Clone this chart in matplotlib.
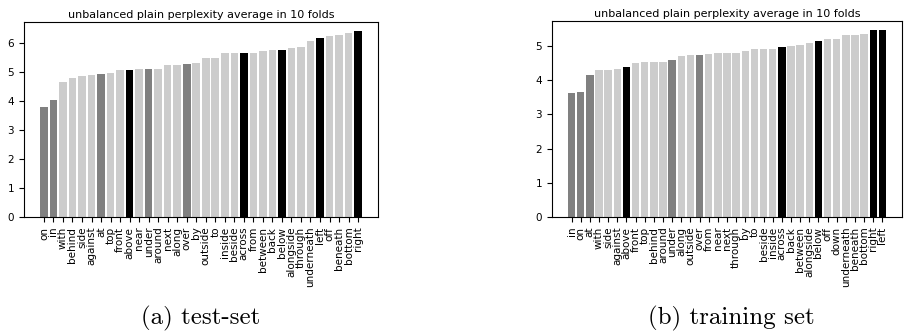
import matplotlib
matplotlib.use("Agg")
import matplotlib.pyplot as plt

# dados (a) test-set
test_labels = ["on", "in", "with", "behind", "side", "against", "at", "top", "front", "above",
               "near", "under", "around", "next", "along", "over", "by", "outside", "to", "inside",
               "beside", "across", "from", "between", "back", "below", "alongside", "through",
               "underneath", "left", "off", "beneath", "bottom", "right"]
test_values = [3.77, 4.02, 4.64, 4.78, 4.85, 4.88, 4.91, 4.95, 5.05, 5.05,
               5.09, 5.09, 5.09, 5.22, 5.22, 5.26, 5.30, 5.46, 5.46, 5.63,
               5.63, 5.63, 5.63, 5.70, 5.74, 5.74, 5.81, 5.84,
               6.05, 6.15, 6.22, 6.25, 6.32, 6.39]
test_groups = ["g", "g", "l", "l", "l", "l", "g", "l", "l", "k",
               "l", "g", "l", "l", "l", "g", "l", "l", "l", "l",
               "l", "k", "l", "l", "l", "k", "l", "l",
               "l", "k", "l", "l", "l", "k"]

# dados (b) training set
train_labels = ["in", "on", "at", "with", "side", "against", "above", "front", "top", "behind",
                "around", "under", "along", "outside", "over", "from", "near", "next", "through", "by",
                "to", "beside", "inside", "across", "back", "between", "alongside", "below", "off",
                "down", "underneath", "beneath", "bottom", "right", "left"]
train_values = [3.63, 3.66, 4.16, 4.29, 4.29, 4.32, 4.38, 4.51, 4.54, 4.54,
                4.54, 4.60, 4.70, 4.73, 4.73, 4.76, 4.79, 4.79, 4.81, 4.87,
                4.90, 4.90, 4.90, 4.96, 4.99, 5.02, 5.08, 5.14, 5.20,
                5.22, 5.31, 5.31, 5.34, 5.46, 5.46]
train_groups = ["g", "g", "g", "l", "l", "l", "k", "l", "l", "l",
                "l", "g", "l", "l", "g", "l", "l", "l", "l", "l",
                "l", "l", "l", "k", "l", "l", "l", "k", "l",
                "l", "l", "l", "l", "k", "k"]

cores = {"g": "#808080", "l": "#cccccc", "k": "#000000"}
titulo = "unbalanced plain perplexity average in 10 folds"


def desenhar(ax, labels, values, groups):
    x = range(len(labels))
    ax.bar(x, values, color=[cores[g] for g in groups])
    ax.set_xticks(list(x))
    ax.set_xticklabels(labels, rotation=90, fontsize=7.5)
    ax.tick_params(axis="y", labelsize=7.5)
    ax.set_title(titulo, fontsize=8, pad=3)


fig = plt.figure(figsize=(9.05, 3.35), dpi=100)
ax1 = fig.add_axes([24 / 905, 1 - 217 / 335, 354 / 905, 195 / 335])
ax2 = fig.add_axes([552 / 905, 1 - 217 / 335, 350 / 905, 196 / 335])

desenhar(ax1, test_labels, test_values, test_groups)
desenhar(ax2, train_labels, train_values, train_groups)

fig.text(201 / 905, 1 - 318 / 335, "(a) test-set", ha="center", va="center",
         family="cmr10", fontsize=18)
fig.text(731 / 905, 1 - 318 / 335, "(b) training set", ha="center", va="center",
         family="cmr10", fontsize=18)

fig.savefig("out.png", dpi=100)
